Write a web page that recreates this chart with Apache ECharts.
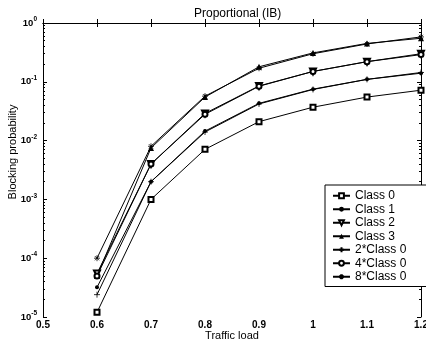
<!DOCTYPE html>
<html>
<head>
<meta charset="utf-8">
<script src="https://cdn.jsdelivr.net/npm/echarts@6/dist/echarts.min.js"></script>
<style>
  html, body { margin: 0; padding: 0; background: #fff; }
  #chart { width: 426px; height: 345px; }
</style>
</head>
<body>
<div id="chart"></div>
<script>
// traffic load (x)
var loads = [0.6, 0.7, 0.8, 0.9, 1.0, 1.1, 1.2];
// blocking probability per series
var class0 = [1.2e-5, 1.0e-3, 7.1e-3, 2.1e-2, 3.7e-2, 5.5e-2, 7.2e-2];
var class1 = [3.2e-5, 2.0e-3, 1.45e-2, 4.3e-2, 7.5e-2, 1.1e-1, 1.4e-1];
var class2 = [5.5e-5, 4.0e-3, 2.9e-2, 8.5e-2, 1.5e-1, 2.2e-1, 3.0e-1];
var class3 = [5.0e-5, 7.5e-3, 5.5e-2, 1.8e-1, 3.1e-1, 4.5e-1, 5.5e-1];
var twoClass0 = [2.4e-5, 2.0e-3, 1.4e-2, 4.2e-2, 7.4e-2, 1.1e-1, 1.44e-1];
var fourClass0 = [5.0e-5, 4.0e-3, 2.8e-2, 8.4e-2, 1.5e-1, 2.2e-1, 2.9e-1];
var eightClass0 = [1.0e-4, 8.0e-3, 5.7e-2, 1.7e-1, 3.0e-1, 4.4e-1, 5.8e-1];
var seriesNames = ['Class 0', 'Class 1', 'Class 2', 'Class 3', '2*Class 0', '4*Class 0', '8*Class 0'];
var xTicks = [0.5, 0.6, 0.7, 0.8, 0.9, 1, 1.1, 1.2];

var font = 'Liberation Sans, Arial, Helvetica, sans-serif';

// minor tick positions (log10 space) for the decade ticks
var minorTicks = [];
for (var e = -5; e < 0; e++) {
    for (var k = 2; k < 10; k++) {
        minorTicks.push(e + Math.log10(k));
    }
}

function pairs(ys) {
    return loads.map(function (x, i) { return [x, ys[i]]; });
}

var plusPath = 'path://M5,0L5,10M0,5L10,5';
var starPath = 'path://M5,0L5,10M0,5L10,5M1.5,1.5L8.5,8.5M1.5,8.5L8.5,1.5';

function line(name, data, symbol, size, itemStyle, rotate) {
    return {
        name: name,
        type: 'line',
        data: pairs(data),
        xAxisIndex: 0,
        yAxisIndex: 0,
        symbol: symbol,
        symbolSize: size,
        symbolRotate: rotate || 0,
        lineStyle: { color: '#000', width: 1 },
        itemStyle: itemStyle,
        color: '#000',
        animation: false,
        z: 3
    };
}

var chart = echarts.init(document.getElementById('chart'));

var tickStyle = { color: '#000', width: 1 };

var option = {
    backgroundColor: '#fff',
    title: {
        text: 'Proportional (IB)',
        left: 189,
        top: 3,
        textStyle: { fontFamily: font, fontSize: 12, fontWeight: 'normal', color: '#000' }
    },
    legend: {
        data: seriesNames,
        orient: 'vertical',
        left: 325,
        top: 185,
        itemWidth: 17,
        itemHeight: 6,
        itemGap: 0,
        padding: [4, 24, 3, 7],
        backgroundColor: '#fff',
        borderColor: '#000',
        borderWidth: 1,
        borderRadius: 0,
        textStyle: { fontFamily: font, fontSize: 12, color: '#000', lineHeight: 13.5 }
    },
    grid: { left: 43, right: 5, top: 23, bottom: 28, outerBoundsMode: 'none', containLabel: false },
    xAxis: [{
        type: 'value',
        min: 0.5,
        max: 1.2,
        interval: 0.1,
        position: 'bottom',
        name: 'Traffic load',
        nameLocation: 'middle',
        nameGap: 13,
        nameMoveOverlap: false,
        nameTextStyle: { fontFamily: font, fontSize: 11, color: '#000' },
        axisLine: { lineStyle: tickStyle },
        axisTick: { inside: true, length: 4, lineStyle: tickStyle },
        splitLine: { show: false },
        axisLabel: {
            fontFamily: font, fontSize: 10, fontWeight: 'bold', color: '#000', margin: 3,
            customValues: xTicks,
            formatter: function (v) { return String(Math.round(v * 10) / 10); }
        }
    }, {
        type: 'value',
        min: 0.5,
        max: 1.2,
        interval: 0.1,
        position: 'top',
        axisLine: { lineStyle: tickStyle },
        axisTick: { inside: true, length: 4, lineStyle: tickStyle },
        splitLine: { show: false },
        axisLabel: { show: false }
    }],
    yAxis: [{
        type: 'log',
        logBase: 10,
        min: 1e-5,
        max: 1,
        position: 'left',
        name: 'Blocking probability',
        nameLocation: 'middle',
        nameGap: 25,
        nameMoveOverlap: false,
        nameTextStyle: { fontFamily: font, fontSize: 11, color: '#000', padding: [0, 0, 0, 36] },
        axisLine: { lineStyle: tickStyle },
        axisTick: { inside: true, length: 4, lineStyle: tickStyle },
        splitLine: { show: false },
        axisLabel: {
            margin: 6,
            formatter: function (v) {
                var ex = Math.round(Math.log10(v));
                return '{b|10}{s|' + ex + '}';
            },
            rich: {
                b: { fontFamily: font, fontSize: 9.5, fontWeight: 'bold', color: '#000' },
                s: { fontFamily: font, fontSize: 6.5, fontWeight: 'bold', color: '#000', padding: [0, 0, 7, 0] }
            }
        }
    }, {
        type: 'log',
        logBase: 10,
        min: 1e-5,
        max: 1,
        position: 'right',
        axisLine: { lineStyle: tickStyle },
        axisTick: { inside: true, length: 4, lineStyle: tickStyle },
        splitLine: { show: false },
        axisLabel: { show: false }
    }, {
        type: 'value',
        min: -5,
        max: 0,
        position: 'left',
        axisLine: { show: false },
        axisTick: { inside: true, length: 2, lineStyle: tickStyle, customValues: minorTicks },
        splitLine: { show: false },
        axisLabel: { show: false }
    }, {
        type: 'value',
        min: -5,
        max: 0,
        position: 'right',
        axisLine: { show: false },
        axisTick: { inside: true, length: 2, lineStyle: tickStyle, customValues: minorTicks },
        splitLine: { show: false },
        axisLabel: { show: false }
    }],
    series: [
        line('Class 0', class0, 'emptyRect', 5, { color: '#000', borderWidth: 1 }),
        line('Class 1', class1, 'circle', 4, { color: '#000' }),
        line('Class 2', class2, 'emptyTriangle', 6, { color: '#000', borderWidth: 1 }, 180),
        line('Class 3', class3, 'triangle', 6, { color: '#000' }),
        line('2*Class 0', twoClass0, plusPath, 6, { color: 'none', borderColor: '#000', borderWidth: 0.8 }),
        line('4*Class 0', fourClass0, 'emptyCircle', 5, { color: '#000', borderWidth: 1 }),
        line('8*Class 0', eightClass0, starPath, 6, { color: 'none', borderColor: '#000', borderWidth: 0.8 })
    ]
};

chart.setOption(option);
</script>
</body>
</html>
